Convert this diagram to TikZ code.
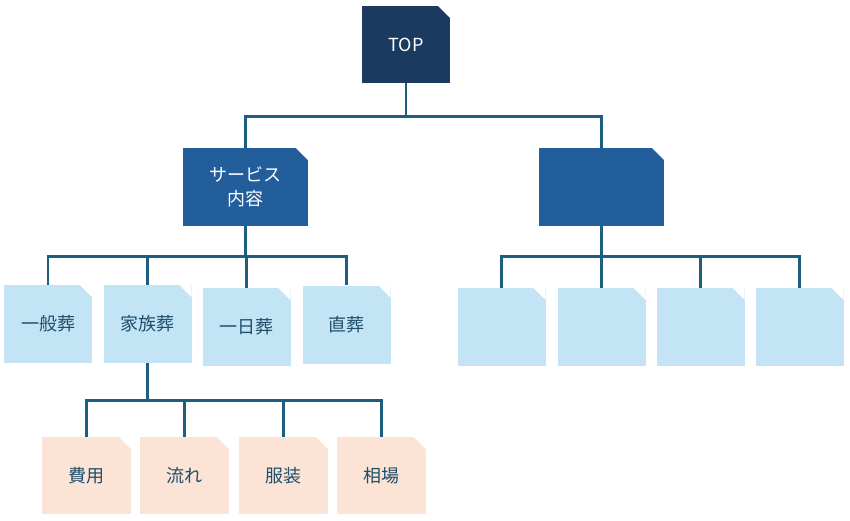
\documentclass[tikz,border=0pt]{standalone}
\usepackage{fontspec}
\setmainfont{Noto Sans CJK JP}

\definecolor{topblue}{HTML}{1A3A5F}
\definecolor{midblue}{HTML}{225E9B}
\definecolor{paleblue}{HTML}{C3E4F5}
\definecolor{palepeach}{HTML}{FBE3D6}
\definecolor{linkblue}{HTML}{1D5E7E}
\definecolor{textblue}{HTML}{1F4E6B}

\begin{document}
\begin{tikzpicture}[x=1pt, y=-1pt,
        box/.style = {rectangle, inner sep=0pt, minimum width=88pt, minimum height=78pt,
            font=\fontsize{18}{24}\selectfont, align=center,
            path picture={\fill[white] ([xshift=-12pt]path picture bounding box.north east)
                -- (path picture bounding box.north east)
                -- ([yshift=-12pt]path picture bounding box.north east) -- cycle;}},
        lvl1/.style = {box, fill=topblue, text=white, minimum height=77pt},
        lvl2/.style = {box, fill=midblue, text=white, minimum width=125pt},
        lvl3/.style = {box, fill=paleblue, text=textblue},
        lvl4/.style = {box, fill=palepeach, text=textblue, minimum width=89pt, minimum height=77pt},
        link/.style = {draw=linkblue, line width=2.6pt}]
        \useasboundingbox (0,0) rectangle (850,520);
        \node[lvl1] (top) at (406,44.5){TOP};
        \node[lvl2] (svc) at (245.5,187){サービス\\内容};
        \node[lvl2] (sub) at (601.5,187){};
        \node[lvl3] (ippan) at (48,324){一般葬};
        \node[lvl3] (kazoku) at (147.5,324){家族葬};
        \node[lvl3] (ichinichi) at (246.5,327){一日葬};
        \node[lvl3] (choku) at (346.5,324.5){直葬};
        \node[lvl3] (r1) at (501.5,327){};
        \node[lvl3] (r2) at (601.5,327){};
        \node[lvl3] (r3) at (700.5,327){};
        \node[lvl3] (r4) at (799.5,327){};
        \node[lvl4] (hiyou) at (86.5,475.5){費用};
        \node[lvl4] (nagare) at (184.5,475.5){流れ};
        \node[lvl4] (fukusou) at (283.5,475.5){服装};
        \node[lvl4] (souba) at (381.5,475.5){相場};
        \draw[link] (top.south) -- ++(0,33) -| (svc.north);
        \draw[link] (top.south) -- ++(0,33) -| (sub.north);
        \foreach \c in {ippan, kazoku, ichinichi, choku}
            \draw[link] (svc.south) -- ++(0,30) -| (\c.north);
        \foreach \c in {r1, r2, r3, r4}
            \draw[link] (sub.south) -- ++(0,30) -| (\c.north);
        \foreach \c in {hiyou, nagare, fukusou, souba}
            \draw[link] (kazoku.south) -- ++(0,37) -| (\c.north);
    \end{tikzpicture}
\end{document}
